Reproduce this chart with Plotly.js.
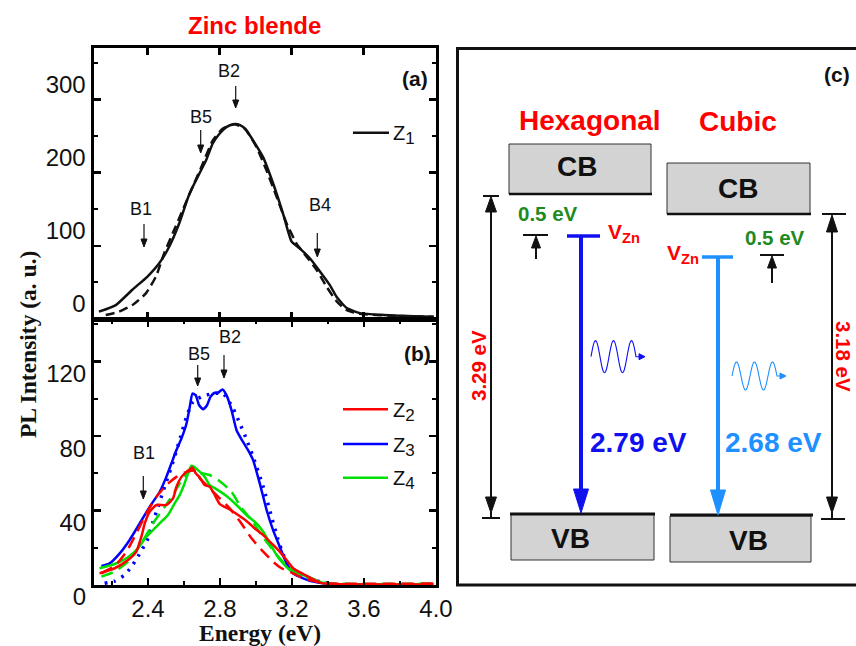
<!DOCTYPE html>
<html><head><meta charset="utf-8">
<script src="https://cdn.plot.ly/plotly-3.0.1.min.js"></script>
<style>html,body{margin:0;padding:0;background:#fff}#plot{width:856px;height:646px}</style>
</head><body><div id="plot"></div>
<script>
// ---------- DATA ----------
// Panel (a): sample Z1, measured PL and fit
const z1Energy = [2.130,2.224,2.316,2.400,2.465,2.521,2.577,2.633,2.689,2.726,2.763,2.800,2.838,2.876,2.912,2.949,2.986,3.042,3.098,3.153,3.200,3.247,3.302,3.358,3.414,3.451,3.507,3.581,3.711,3.990];
const z1PL     = [10,19,40,58,76,99,131,171,199,217,240,253,262,266,265,258,244,221,185,144,106,96,83,65,46,30,15,8,5.5,3];
const z1FitEnergy = [2.168,2.242,2.316,2.391,2.447,2.493,2.540,2.596,2.652,2.707,2.763,2.819,2.884,2.940,3.005,3.061,3.117,3.172,3.228,3.284,3.340,3.395,3.451,3.507,3.581,3.804,3.990];
const z1FitPL     = [5.5,10,19,35,58,90,117,149,181,212,244,260,266,260,235,203,167,131,103,85,67,44,24,12,7,4,3];

// Panel (b): samples Z2, Z3, Z4 (measured and fits)
const z2Energy = [2.131,2.215,2.289,2.335,2.363,2.382,2.409,2.447,2.502,2.539,2.558,2.586,2.614,2.632,2.647,2.665,2.688,2.715,2.743,2.771,2.799,2.854,2.901,2.947,2.993,3.040,3.086,3.132,3.170,3.206,3.262,3.355,3.429,3.985];
const z2PL     = [6.3,9.0,13.4,17.9,25.9,33.1,39.4,43.0,43.0,46.5,52.8,58.1,60.8,62.1,63.2,60.0,57.8,53.7,52.8,48.3,43.5,40.6,37.6,34.4,30.4,26.8,22.4,17.9,13.4,9.0,5.9,1.3,0.5,0.3];
const z2FitEnergy = [2.141,2.215,2.280,2.335,2.391,2.447,2.502,2.558,2.614,2.660,2.688,2.743,2.799,2.854,2.919,2.975,3.040,3.095,3.142,3.206,3.262,3.337,3.429,4.0];
const z2FitPL     = [6.3,10.2,17.9,27.7,38.5,47.4,53.7,58.1,60.8,61.4,57.3,51.9,46.5,41.2,33.1,25.1,17.9,12.5,9.0,6.3,3.6,1.8,0.8,0.8];

const z3Energy = [2.141,2.187,2.243,2.298,2.354,2.409,2.465,2.502,2.530,2.558,2.586,2.614,2.632,2.647,2.665,2.684,2.706,2.728,2.747,2.771,2.789,2.814,2.836,2.864,2.892,2.928,2.956,2.984,3.021,3.059,3.095,3.132,3.170,3.206,3.262,3.318,3.411,3.985];
const z3PL     = [10.2,11.6,17.0,24.2,33.1,42.0,50.1,58.1,65.3,72.5,78.8,86.8,95.7,102.9,102.0,96.6,94.5,96.6,101.1,103.3,103.3,105.1,102.0,94.0,83.2,76.9,72.5,67.1,54.6,40.3,29.5,20.6,11.6,6.3,3.6,1.8,0.5,0.3];
const z3FitEnergy = [2.159,2.215,2.270,2.308,2.344,2.400,2.428,2.456,2.483,2.530,2.576,2.614,2.650,2.706,2.762,2.817,2.873,2.910,2.938,2.984,3.040,3.086,3.123,3.160,3.188,3.244,3.299,3.355,3.429];
const z3FitPL     = [0.9,2.1,5.4,9.8,15.2,25.1,34.0,42.0,50.1,63.5,77.9,90.4,98.4,101.5,102.9,102.9,94.9,86.8,80.5,68.9,52.8,36.7,24.2,14.3,9.8,6.3,3.6,1.8,0.5];

const z4Energy = [2.131,2.215,2.289,2.344,2.391,2.437,2.474,2.511,2.548,2.576,2.600,2.619,2.641,2.650,2.678,2.715,2.743,2.780,2.836,2.892,2.947,3.003,3.040,3.077,3.114,3.151,3.188,3.244,3.299,3.380,3.985];
const z4PL     = [9.0,11.3,14.9,19.7,25.9,30.4,34.0,37.6,43.9,48.3,53.7,59.1,64.1,63.9,61.7,58.1,53.7,51.5,47.8,43.0,37.6,33.1,28.6,22.4,16.1,11.6,8.1,5.9,4.1,1.0,0.5];
const z4FitEnergy = [2.141,2.215,2.289,2.363,2.428,2.493,2.548,2.595,2.641,2.688,2.743,2.799,2.864,2.919,2.975,3.031,3.077,3.132,3.188,3.244,3.320,3.420,4.0];
const z4FitPL     = [4.5,7.2,12.5,22.4,33.1,42.0,50.1,57.3,61.7,60.3,59.1,55.8,50.1,41.5,34.9,26.8,20.9,14.3,9.0,6.3,2.5,0.8,0.8];

// Tick labels
const xTickVals = [2.4,2.8,3.2,3.6,4.0];
const xTickText = ['2.4','2.8','3.2','3.6','4.0'];
const yTickValsA = [0,100,200,300];
const yTickValsB = [0,40,80,120];

// Band diagram (c) values
const phases = ['Hexagonal','Cubic'];
const bandGaps = ['3.29 eV','3.18 eV'];
const emissions = ['2.79 eV','2.68 eV'];
const defectDepth = ['0.5 eV','0.5 eV'];

// ---------- helpers ----------
const W=856,H=646;
const X=p=>p/W, Y=p=>1-p/H;
const shapes=[], anns=[];
const K='#111';
function seg(x0,y0,x1,y1,color,width){shapes.push({type:'line',xref:'paper',yref:'paper',x0:X(x0),y0:Y(y0),x1:X(x1),y1:Y(y1),line:{color:color,width:width}});}
function box(x0,y0,x1,y1,fill,lc,lw){shapes.push({type:'rect',xref:'paper',yref:'paper',x0:X(x0),y0:Y(y0),x1:X(x1),y1:Y(y1),fillcolor:fill,line:{color:lc,width:lw}});}
function poly(pts,color,fill,lw){let d='M'+pts.map(p=>X(p[0]).toFixed(5)+','+Y(p[1]).toFixed(5)).join(' L');if(fill)d+=' Z';
  shapes.push({type:'path',xref:'paper',yref:'paper',path:d,fillcolor:fill?color:'rgba(0,0,0,0)',line:{color:color,width:lw||1}});}
function txt(t,x,y,size,color,o){o=o||{};anns.push(Object.assign({text:t,xref:'paper',yref:'paper',x:X(x),y:Y(y),showarrow:false,xanchor:'center',yanchor:'middle',
  font:{family:'Liberation Sans, Arial, sans-serif',size:size,color:color,weight:o.bold?'bold':'normal'}},o.extra||{}));}
function downArrow(x,y0,y1){seg(x,y0,x,y1-5,K,1.2);poly([[x-3,y1-8],[x,y1],[x+3,y1-8]],K,true,1);}

// ---------- panel (a) & (b) annotations ----------
txt('Zinc blende',254.5,25,24,'#ff0000',{bold:true});
txt('(a)',415,79,21,K,{bold:true});
txt('(b)',417,353,21,K,{bold:true});
txt('B2',228.7,70.5,18,K); downArrow(235.7,86,108);
txt('B5',200.8,117,18,K); downArrow(200.7,130,153);
txt('B1',141.3,209,18,K); downArrow(144,224,247);
txt('B4',320,205,18,K); downArrow(317.3,233,257);
txt('B5',199.3,353.5,18,K); downArrow(197.7,365,386);
txt('B2',230,336.5,18,K); downArrow(224,355,378);
txt('B1',143.8,452.5,18,K); downArrow(143.3,476,499);
// legends
const subStyle = s => "Z<sub><span style='font-size:17px'>"+s+"</span></sub>";
seg(353,132.7,389,132.7,K,2.5); txt(subStyle('1'),391,135,20,K,{extra:{xanchor:'left'}});
const legCol=['#ff0000','#0000ff','#00e000'], legName=[subStyle('2'),subStyle('3'),subStyle('4')], legY=[409.3,444,477.7];
for(let i=0;i<3;i++){seg(343,legY[i],388,legY[i],legCol[i],2.5); txt(legName[i],391,legY[i]+2.5,20,K,{extra:{xanchor:'left'}});}
// axis titles
txt('PL Intensity (a. u.)',28,345,23.5,K,{bold:true,extra:{textangle:-90,font:{family:'Liberation Serif, Times New Roman, serif',size:23.5,color:K,weight:'bold'}}});
txt('Energy (eV)',259.5,633,23.5,K,{bold:true,extra:{font:{family:'Liberation Serif, Times New Roman, serif',size:23.5,color:K,weight:'bold'}}});

// ---------- panel (c): band diagram ----------
const blue='#1010ee', lblue='#1e90ff', green='#1f8a1f', red='#ff0000';
box(457.5,48.5,900,585,'rgba(0,0,0,0)',K,3);
txt('(c)',837,74,21,K,{bold:true});
txt(phases[0],589.5,120,28,red,{bold:true});
txt(phases[1],738,122,28,red,{bold:true});
// CB boxes
box(509,144,651,194,'#d3d3d3','#333',1); seg(509,194,652,194,K,2.5);
box(667,163,810,214,'#d3d3d3','#333',1); seg(667,214,811,214,K,2.5);
txt('CB',577,166,28,K,{bold:true}); txt('CB',738,188,28,K,{bold:true});
// VB boxes
box(511,514,654,560,'#d3d3d3','#333',1); seg(510,514,655,514,K,3);
box(670,516,811,562,'#d3d3d3','#333',1); seg(670,515,813,515,K,3);
txt('VB',570,538,28,K,{bold:true}); txt('VB',748,540,28,K,{bold:true});
// band-gap double arrows
seg(483,196,499,196,K,2); seg(491,200,491,510,K,2);
poly([[491,196.5],[485.5,212],[496.5,212]],K,true,1); poly([[491,513],[485.5,497],[496.5,497]],K,true,1); seg(482,518,500,518,K,2); seg(491,512,491,518,K,2);
seg(822,214,846,214,K,2); seg(832,218,832,510,K,2);
poly([[832,215],[826.5,232],[837.5,232]],K,true,1); poly([[832,513],[826.5,497],[837.5,497]],K,true,1); seg(821,519,845,519,K,2); seg(832,512,832,519,K,2);
txt(bandGaps[0],478,366,20.5,red,{bold:true,extra:{textangle:-90}});
txt(bandGaps[1],844,356,20.5,red,{bold:true,extra:{textangle:90}});
// 0.5 eV small arrows
txt(defectDepth[0],547.5,213.5,20.5,green,{bold:true});
txt(defectDepth[1],775,237.5,20.5,green,{bold:true});
seg(523,235,548,235,K,2); seg(536,244,536,259,K,2); poly([[536,236],[531.5,248],[540.5,248]],K,true,1);
seg(760,255,784,255,K,2); seg(772,264,772,283,K,2); poly([[772,256],[767.5,268],[776.5,268]],K,true,1);
// V_Zn levels
txt('V<sub>Zn</sub>',606,233,21,red,{bold:true,extra:{xanchor:'left'}});
txt('V<sub>Zn</sub>',701,254,21,red,{bold:true,extra:{xanchor:'right'}});
seg(567,236,600,236,blue,3.5); seg(581,236,581,492,blue,4); poly([[581,513],[573.5,489],[588.5,489]],blue,true,1);
seg(702,257,733,257,lblue,3.5); seg(718,257,718,494,lblue,4); poly([[718,515],[710.5,490],[725.5,490]],lblue,true,1);
txt(emissions[0],638.5,442,28,blue,{bold:true});
txt(emissions[1],773,442,28,lblue,{bold:true});
// photon waves (decorative glyphs)
function wave(x0,cy,amp,period,color){const pts=[];const n=80;for(let i=0;i<=n;i++){const t=i/n*5*Math.PI;pts.push([x0+t/(2*Math.PI)*period,cy-amp*Math.sin(t)]);}
  const xe=x0+2.5*period; pts.push([xe+3,cy]); poly(pts,color,false,1.1); poly([[xe+3,cy-3],[xe+9,cy],[xe+3,cy+3]],color,true,1);}
wave(591,356.7,16,18,blue);
wave(732,376,14,18,lblue);

// ---------- traces ----------
const sp={shape:'spline',smoothing:0.5};
const traces=[
 {x:z1FitEnergy,y:z1FitPL,xaxis:'x',yaxis:'y',mode:'lines',line:Object.assign({color:'#111',width:2.5,dash:'9px,5px'},sp)},
 {x:z1Energy,y:z1PL,xaxis:'x',yaxis:'y',mode:'lines',line:Object.assign({color:'#111',width:2.5},sp)},
 {x:z3FitEnergy,y:z3FitPL,xaxis:'x2',yaxis:'y2',mode:'lines',line:Object.assign({color:'#0000ff',width:3.5,dash:'2.5px,6.5px'},sp)},
 {x:z3Energy,y:z3PL,xaxis:'x2',yaxis:'y2',mode:'lines',line:Object.assign({color:'#0000ff',width:2.5},sp)},
 {x:z4FitEnergy,y:z4FitPL,xaxis:'x2',yaxis:'y2',mode:'lines',line:Object.assign({color:'#00e000',width:2.5,dash:'12px,7px'},sp)},
 {x:z4Energy,y:z4PL,xaxis:'x2',yaxis:'y2',mode:'lines',line:Object.assign({color:'#00e000',width:2.5},sp)},
 {x:z2FitEnergy,y:z2FitPL,xaxis:'x2',yaxis:'y2',mode:'lines',line:Object.assign({color:'#ff0000',width:2.5,dash:'12px,7px'},sp)},
 {x:z2Energy,y:z2PL,xaxis:'x2',yaxis:'y2',mode:'lines',line:Object.assign({color:'#ff0000',width:2.5},sp)}
];

const axBase={showline:true,linecolor:'#000',linewidth:3,mirror:'ticks',ticks:'inside',ticklen:7,tickwidth:2.5,tickcolor:'#000',
  showgrid:false,zeroline:false,tickfont:{family:'Liberation Sans, Arial, sans-serif',size:24,color:'#111'}};
const layout={
 width:856,height:646,margin:{l:0,r:0,t:0,b:0},paper_bgcolor:'#fff',plot_bgcolor:'rgba(0,0,0,0)',showlegend:false,
 xaxis:Object.assign({},axBase,{domain:[X(93.5),X(435.5)],range:[2.1,4.0],anchor:'y',tickvals:[2.4,2.8,3.2,3.6],showticklabels:false}),
 yaxis:Object.assign({},axBase,{domain:[Y(319),Y(48)],range:[0,370],anchor:'x',tickvals:yTickValsA,ticklabelshift:-15,
   minor:{ticks:'inside',ticklen:4,tickwidth:2,tickcolor:'#000',dtick:50,tick0:0,showgrid:false}}),
 xaxis2:Object.assign({},axBase,{domain:[X(94),X(436)],range:[2.1,4.0001],anchor:'y2',tickvals:xTickVals,ticktext:xTickText,
   minor:{ticks:'inside',ticklen:4,tickwidth:2,tickcolor:'#000',dtick:0.2,tick0:2.4,showgrid:false}}),
 yaxis2:Object.assign({},axBase,{domain:[Y(585),Y(320)],range:[0,142.4],anchor:'x2',tickvals:yTickValsB,ticklabelshift:12,
   minor:{ticks:'inside',ticklen:4,tickwidth:2,tickcolor:'#000',dtick:20,tick0:0,showgrid:false}}),
 shapes:shapes,annotations:anns
};
Plotly.newPlot('plot',traces,layout,{staticPlot:true,displayModeBar:false});
</script></body></html>
